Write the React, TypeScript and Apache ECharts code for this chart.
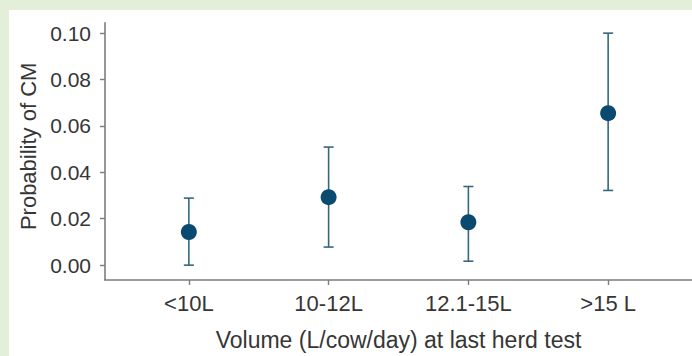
import React, { useEffect, useRef } from "react";
import * as echarts from "echarts";

const categories = ["<10L", "10-12L", "12.1-15L", ">15 L"];
const probability = [0.0143, 0.0293, 0.0185, 0.0655];
const lowerCI = [0.0, 0.0078, 0.0017, 0.0322];
const upperCI = [0.0289, 0.0509, 0.0339, 0.1];
const yTicks = [0, 0.02, 0.04, 0.06, 0.08, 0.1];

export default function App() {
  const ref = useRef<HTMLDivElement>(null);
  useEffect(() => {
    if (!ref.current) return;
    const chart = echarts.init(ref.current, undefined, { renderer: "svg" });
    const xPos = categories.map((_, i) => i + 1);
    const axisColor = "#7d7d7d";
    const labelColor = "#363636";
    const font = "Liberation Sans, Arial, Helvetica, sans-serif";
    chart.setOption({
      animation: false,
      backgroundColor: "#ffffff",
      grid: { left: 91.5, top: 12.7, width: 594.7, height: 260, containLabel: false },
      xAxis: {
        type: "value",
        min: 0.4,
        max: 4.6,
        name: "Volume (L/cow/day) at last herd test",
        nameLocation: "middle",
        nameGap: 48,
        nameTextStyle: { fontSize: 23, color: labelColor, fontFamily: font },
        axisLine: { show: true, onZero: false, lineStyle: { color: axisColor, width: 1.6 } },
        axisTick: { show: true, length: 5, customValues: xPos, lineStyle: { color: axisColor, width: 1.4 } },
        axisLabel: {
          customValues: xPos,
          margin: 12,
          fontSize: 22,
          color: labelColor,
          fontFamily: font,
          formatter: (v: number) => categories[Math.round(v) - 1] ?? "",
        },
        splitLine: { show: false },
      },
      yAxis: {
        type: "value",
        min: -0.0064,
        max: 0.1045,
        name: "Probability of CM",
        nameLocation: "middle",
        nameRotate: 90,
        nameGap: 66,
        nameTextStyle: { fontSize: 22, color: labelColor, fontFamily: font, padding: [0, 0, 0, 10] },
        axisLine: { show: true, onZero: false, lineStyle: { color: axisColor, width: 1.6 } },
        axisTick: { show: true, length: 5, customValues: yTicks, lineStyle: { color: axisColor, width: 1.4 } },
        axisLabel: {
          customValues: yTicks,
          margin: 14,
          fontSize: 21,
          color: labelColor,
          fontFamily: font,
          formatter: (v: number) => v.toFixed(2),
        },
        splitLine: { show: false },
      },
      series: [
        {
          type: "custom",
          data: xPos.map((x, i) => [x, lowerCI[i], upperCI[i]]),
          renderItem: (params: any, api: any) => {
            const x = api.value(0);
            const lo = api.coord([x, api.value(1)]);
            const hi = api.coord([x, api.value(2)]);
            const hw = 5;
            const style = { stroke: "#35687e", lineWidth: 1.6 };
            return {
              type: "group",
              children: [
                { type: "line", shape: { x1: lo[0], y1: lo[1], x2: hi[0], y2: hi[1] }, style },
                { type: "line", shape: { x1: lo[0] - hw, y1: lo[1], x2: lo[0] + hw, y2: lo[1] }, style },
                { type: "line", shape: { x1: hi[0] - hw, y1: hi[1], x2: hi[0] + hw, y2: hi[1] }, style },
              ],
            };
          },
          z: 2,
        },
        {
          type: "scatter",
          data: xPos.map((x, i) => [x, probability[i]]),
          symbol: "circle",
          symbolSize: 16,
          itemStyle: { color: "#0b4a70", opacity: 1 },
          z: 3,
        },
      ],
    });
    return () => chart.dispose();
  }, []);
  return (
    <div
      style={{
        position: "absolute",
        left: 0,
        top: 0,
        width: 692,
        height: 356,
        background: "#e3efd9",
        overflow: "hidden",
      }}
    >
      <div
        ref={ref}
        style={{ position: "absolute", left: 9, top: 10, width: 683, height: 346, background: "#ffffff" }}
      />
    </div>
  );
}
